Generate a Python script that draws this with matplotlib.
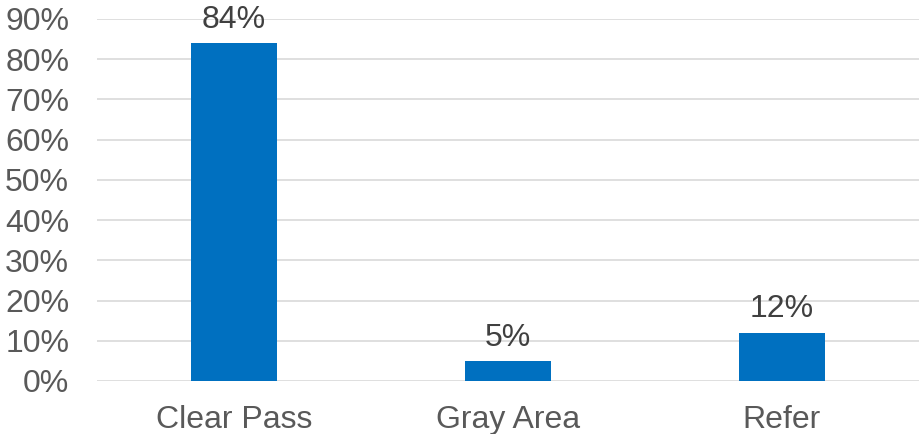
import matplotlib.pyplot as plt
from matplotlib.ticker import PercentFormatter

categories = ["Clear Pass", "Gray Area", "Refer"]
shares = [0.84, 0.05, 0.12]
value_labels = ["84%", "5%", "12%"]

plt.rcParams['font.family'] = ['Liberation Sans', 'DejaVu Sans']

fig = plt.figure(figsize=(9.2, 4.34), dpi=100)
ax = fig.add_axes([97 / 920, 1 - 381 / 434, 822 / 920, 362 / 434])

x = range(len(categories))
bars = ax.bar(x, shares, width=0.314, color='#0070C0', zorder=3)

for b, lab in zip(bars, value_labels):
    ax.annotate(lab, (b.get_x() + b.get_width() / 2, b.get_height()),
                xytext=(0, 6), textcoords='offset points',
                ha='center', va='bottom', fontsize=23, color='#404040')

ax.set_xlim(-0.5, len(categories) - 0.5)
ax.set_ylim(0, 0.9)
ax.set_yticks([i / 10 for i in range(10)])
ax.yaxis.set_major_formatter(PercentFormatter(1.0, decimals=0))
ax.set_xticks(list(x))
ax.set_xticklabels(categories)

ax.grid(axis='y', color='#D9D9D9', linewidth=1.2, zorder=0)
for s in ax.spines.values():
    s.set_visible(False)
ax.tick_params(axis='both', length=0, labelsize=23, colors='#595959')
ax.tick_params(axis='y', pad=20)
ax.tick_params(axis='x', pad=17)

fig.savefig("out.png", dpi=100)
